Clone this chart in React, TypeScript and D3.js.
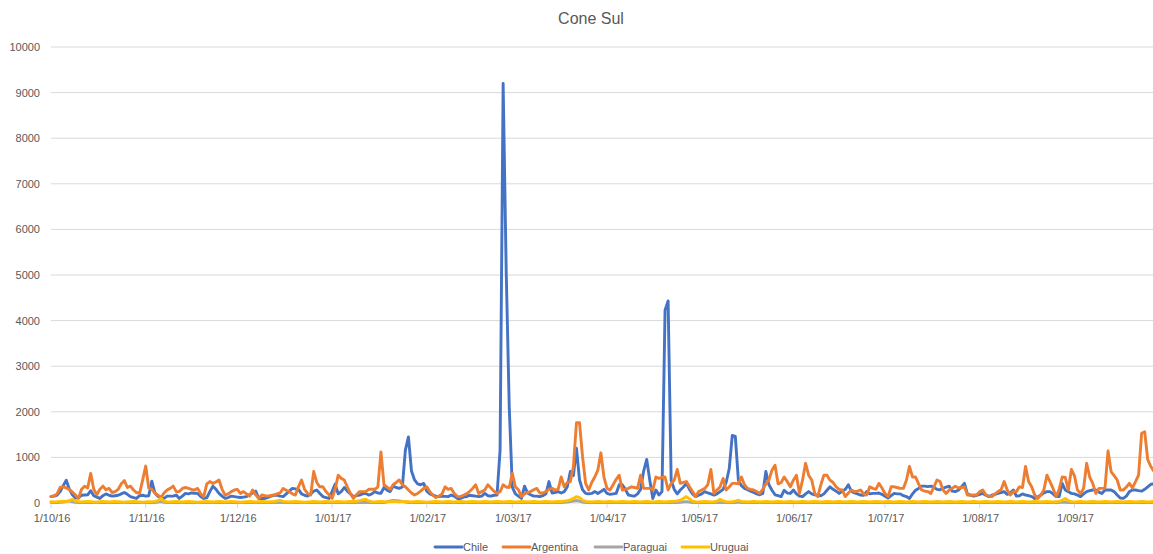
import { useEffect, useRef } from 'react';
import * as d3 from 'd3';

// daily series, first value = 1/10/2016
const startDate = Date.UTC(2016, 9, 1);

const chile = [
  140, 150, 175, 250, 380, 500, 300, 180, 110, 120,
  170, 175, 180, 270, 160, 130, 100, 160, 200, 170,
  150, 160, 170, 200, 230, 190, 140, 120, 100, 160,
  170, 150, 160, 480, 220, 150, 110, 100, 150, 150,
  150, 175, 100, 150, 210, 200, 220, 215, 210, 140,
  100, 115, 250, 370, 300, 210, 150, 100, 120, 150,
  140, 130, 120, 130, 140, 180, 220, 260, 100, 100,
  100, 120, 150, 170, 175, 150, 140, 200, 260, 320,
  310, 300, 200, 170, 150, 200, 260, 285, 210, 140,
  120, 100, 250, 415, 200, 250, 340, 260, 200, 140,
  160, 175, 200, 210, 175, 200, 250, 220, 210, 340,
  280, 250, 370, 340, 320, 350, 1160, 1450, 700, 505,
  420, 400, 430, 260, 200, 175, 150, 140, 150, 145,
  140, 175, 150, 100, 100, 130, 140, 170, 160, 150,
  140, 150, 210, 160, 150, 170, 175, 1160, 9200, 5100,
  2100, 350, 200, 150, 100, 370, 220, 180, 150, 150,
  140, 160, 200, 470, 220, 230, 250, 220, 250, 355,
  690, 600, 1200, 505, 290, 210, 200, 210, 250, 210,
  250, 300, 210, 190, 200, 210, 400, 400, 300, 175,
  160, 150, 200, 300, 700, 955, 500, 100, 285, 175,
  250, 4230, 4430, 500, 300, 200, 285, 350, 430, 300,
  200, 140, 170, 200, 250, 220, 200, 175, 200, 250,
  300, 450, 750, 1480, 1460, 500, 380, 320, 290, 260,
  230, 200, 180, 210, 690, 400, 280, 180, 160, 140,
  280, 220, 210, 285, 200, 150, 140, 200, 250, 200,
  180, 170, 160, 200, 280, 355, 300, 260, 210, 260,
  300, 400, 260, 220, 200, 175, 170, 250, 200, 210,
  210, 220, 190, 150, 110, 160, 210, 200, 200, 160,
  140, 100, 200, 280, 320, 370, 370, 360, 370, 350,
  300, 290, 320, 350, 370, 260, 250, 280, 350, 430,
  190, 175, 150, 170, 190, 210, 170, 140, 170, 190,
  210, 230, 250, 190, 220, 285, 150, 160, 200, 175,
  160, 140, 100, 130, 175, 220, 250, 250, 200, 140,
  140, 430, 285, 250, 210, 200, 175, 140, 200, 250,
  270, 285, 285, 240, 210, 285, 285, 285, 250, 175,
  110, 100, 150, 250, 285, 285, 270, 260, 300, 355,
  410, 420,
];

const argentina = [
  140, 160, 200, 340, 355, 330, 300, 240, 175, 100,
  300, 370, 330, 650, 300, 180, 300, 370, 290, 320,
  230, 250, 300, 420, 490, 340, 370, 285, 230, 210,
  500, 810, 330, 300, 220, 170, 120, 220, 285, 320,
  370, 250, 250, 320, 340, 320, 300, 285, 320, 200,
  140, 420, 470, 430, 460, 505, 300, 175, 200, 250,
  285, 300, 210, 250, 200, 150, 285, 180, 100, 175,
  160, 150, 165, 175, 200, 220, 320, 280, 250, 200,
  175, 355, 505, 300, 210, 175, 690, 450, 355, 355,
  250, 180, 100, 300, 610, 540, 505, 350, 210, 100,
  180, 250, 250, 250, 300, 300, 300, 355, 1120, 400,
  350, 300, 400, 450, 505, 400, 355, 285, 220, 175,
  210, 260, 320, 355, 250, 175, 120, 150, 200, 355,
  300, 320, 210, 140, 140, 170, 200, 250, 320, 400,
  210, 250, 285, 400, 330, 260, 210, 250, 400, 350,
  340, 650, 355, 290, 140, 200, 230, 250, 290, 320,
  220, 220, 250, 300, 320, 285, 300, 570, 355, 450,
  470, 800, 1760, 1760, 1010, 430, 285, 450, 570, 720,
  1100, 570, 320, 285, 400, 520, 610, 285, 300, 320,
  355, 340, 320, 610, 320, 320, 320, 285, 570, 540,
  560, 570, 285, 430, 500, 735, 430, 450, 470, 355,
  250, 140, 250, 285, 320, 400, 735, 210, 285, 350,
  540, 285, 350, 430, 430, 420, 570, 400, 320, 300,
  285, 250, 210, 300, 420, 505, 720, 830, 420, 450,
  570, 470, 355, 500, 610, 210, 500, 870, 610, 505,
  210, 140, 400, 610, 610, 500, 450, 355, 300, 285,
  140, 220, 285, 250, 260, 285, 200, 175, 355, 320,
  300, 430, 330, 210, 140, 355, 355, 340, 320, 320,
  500, 800, 570, 570, 420, 285, 260, 250, 210, 350,
  505, 470, 285, 210, 285, 320, 370, 330, 340, 355,
  175, 170, 175, 175, 250, 285, 180, 150, 140, 200,
  250, 290, 470, 285, 175, 250, 250, 355, 340, 800,
  470, 355, 175, 100, 175, 285, 610, 470, 320, 140,
  300, 570, 560, 285, 735, 600, 285, 210, 320, 870,
  570, 430, 210, 320, 320, 325, 1140, 690, 600, 505,
  285, 285, 350, 430, 330, 470, 610, 1530, 1560, 950,
  800, 700,
];

const paraguai = [
  10, 12, 8, 15, 20, 30, 45, 25, 15, 10,
  8, 10, 12, 10, 8, 10, 12, 15, 10, 8,
  10, 12, 10, 8, 10, 15, 12, 10, 8, 10,
  12, 10, 8, 10, 12, 20, 30, 15, 10, 8,
  10, 12, 10, 8, 10, 12, 10, 8, 10, 12,
  10, 8, 10, 12, 10, 8, 10, 12, 10, 8,
  10, 12, 10, 8, 10, 12, 10, 8, 10, 12,
  10, 8, 10, 12, 10, 8, 10, 12, 10, 8,
  10, 12, 10, 8, 10, 12, 10, 8, 10, 12,
  10, 8, 10, 12, 10, 8, 10, 12, 10, 8,
  10, 12, 15, 12, 10, 8, 10, 12, 10, 8,
  25, 45, 55, 50, 45, 35, 20, 12, 10, 8,
  10, 12, 10, 8, 10, 12, 10, 8, 10, 12,
  10, 8, 10, 12, 10, 8, 10, 12, 10, 8,
  10, 12, 10, 8, 10, 12, 10, 8, 10, 12,
  10, 8, 10, 12, 10, 8, 10, 12, 10, 8,
  10, 12, 10, 8, 10, 12, 10, 8, 15, 20,
  30, 40, 55, 40, 20, 12, 10, 8, 10, 12,
  10, 8, 10, 12, 10, 8, 10, 12, 10, 8,
  10, 12, 10, 8, 10, 12, 10, 8, 10, 12,
  10, 8, 10, 12, 10, 8, 15, 25, 30, 20,
  10, 8, 10, 12, 10, 8, 10, 12, 10, 8,
  10, 12, 10, 8, 10, 20, 12, 8, 10, 12,
  10, 8, 10, 12, 10, 8, 10, 12, 10, 8,
  10, 12, 10, 8, 10, 12, 10, 8, 10, 12,
  10, 8, 10, 12, 10, 8, 10, 12, 10, 8,
  10, 12, 10, 8, 10, 12, 10, 8, 10, 12,
  10, 8, 10, 12, 10, 8, 10, 12, 10, 8,
  10, 12, 10, 8, 10, 12, 10, 8, 10, 12,
  10, 8, 10, 12, 10, 8, 10, 12, 10, 8,
  10, 12, 10, 8, 10, 12, 10, 8, 10, 12,
  10, 8, 10, 12, 10, 8, 10, 12, 10, 8,
  10, 12, 10, 8, 10, 12, 10, 8, 10, 12,
  10, 20, 15, 8, 10, 12, 10, 8, 10, 12,
  10, 8, 10, 12, 10, 8, 10, 12, 10, 8,
  10, 12, 10, 8, 10, 12, 10, 8, 10, 12,
  10, 8,
];

const uruguai = [
  30, 25, 30, 35, 40, 35, 50, 80, 40, 30,
  25, 30, 35, 30, 25, 20, 30, 35, 30, 25,
  30, 35, 30, 25, 20, 25, 30, 35, 30, 25,
  20, 25, 30, 30, 35, 50, 100, 40, 30, 25,
  30, 35, 30, 25, 30, 35, 30, 25, 20, 25,
  30, 35, 30, 25, 30, 35, 30, 25, 30, 35,
  30, 25, 20, 25, 30, 35, 30, 25, 30, 35,
  30, 25, 30, 35, 45, 60, 35, 30, 25, 30,
  35, 30, 25, 20, 25, 30, 35, 30, 25, 30,
  35, 30, 25, 30, 35, 30, 25, 30, 35, 40,
  35, 50, 70, 80, 45, 30, 25, 30, 35, 30,
  25, 30, 35, 30, 25, 30, 35, 30, 25, 30,
  35, 30, 25, 20, 25, 30, 35, 30, 25, 30,
  35, 30, 25, 30, 35, 30, 25, 30, 35, 30,
  25, 30, 35, 30, 25, 30, 35, 30, 25, 30,
  35, 30, 25, 30, 35, 30, 25, 30, 35, 30,
  25, 30, 35, 30, 25, 30, 35, 30, 40, 50,
  70, 100, 140, 120, 60, 35, 30, 25, 30, 35,
  30, 25, 30, 35, 30, 25, 30, 35, 30, 25,
  30, 35, 30, 25, 30, 35, 30, 25, 30, 35,
  30, 25, 30, 35, 40, 45, 60, 100, 140, 90,
  40, 30, 25, 30, 35, 30, 25, 30, 40, 80,
  45, 30, 25, 30, 40, 60, 35, 30, 25, 30,
  35, 30, 25, 30, 35, 30, 25, 30, 35, 30,
  25, 30, 35, 30, 25, 30, 35, 30, 25, 30,
  35, 30, 25, 30, 35, 30, 25, 30, 35, 30,
  25, 30, 35, 30, 25, 30, 35, 30, 25, 30,
  35, 30, 25, 30, 35, 30, 25, 30, 35, 30,
  25, 30, 35, 30, 25, 30, 35, 30, 25, 30,
  35, 30, 25, 30, 35, 30, 25, 30, 35, 30,
  25, 30, 35, 30, 25, 30, 35, 30, 25, 30,
  35, 30, 25, 30, 35, 30, 25, 30, 35, 30,
  25, 30, 35, 30, 25, 30, 35, 30, 25, 30,
  35, 60, 100, 50, 30, 25, 30, 35, 30, 25,
  30, 35, 30, 25, 30, 35, 30, 25, 30, 35,
  30, 25, 30, 35, 30, 25, 30, 35, 30, 25,
  30, 35,
];

const seriesNames = ['Chile', 'Argentina', 'Paraguai', 'Uruguai'];
const seriesValues = [chile, argentina, paraguai, uruguai];
const seriesColors = ['#4472C4', '#ED7D31', '#A5A5A5', '#FFC000'];
const yTicks = [0, 1000, 2000, 3000, 4000, 5000, 6000, 7000, 8000, 9000, 10000];
const title = 'Cone Sul';

const DAY = 86400000;

export default function App() {
  const svgRef = useRef<SVGSVGElement>(null);

  useEffect(() => {
    if (!svgRef.current) return;
    const width = 1153;
    const font = '"Liberation Sans", Arial, sans-serif';
    const textColor = '#595959';

    const svg = d3.select(svgRef.current);
    svg.selectAll('*').remove();

    const left = 51;
    const pxPerDay = 3.055;
    const x = d3.scaleUtc()
      .domain([new Date(startDate), new Date(Date.UTC(2017, 9, 1))])
      .range([left, left + 365 * pxPerDay]);
    const y = d3.scaleLinear().domain([0, 10000]).range([503, 47]);

    // gridlines
    svg.append('g')
      .selectAll('line')
      .data(yTicks)
      .join('line')
      .attr('x1', left)
      .attr('x2', width)
      .attr('y1', d => y(d))
      .attr('y2', d => y(d))
      .attr('stroke', '#d9d9d9')
      .attr('stroke-width', 1);

    // y labels
    svg.append('g')
      .selectAll('text')
      .data(yTicks)
      .join('text')
      .attr('x', 40)
      .attr('y', d => y(d) + 4)
      .attr('text-anchor', 'end')
      .attr('font-family', font)
      .attr('font-size', 11)
      .attr('fill', textColor)
      .text(d => String(d));

    // x ticks + labels
    const months = x.ticks(d3.utcMonth.every(1)!).filter(d => x(d) <= width);
    const fmt = d3.utcFormat('%-d/%m/%y');
    const xa = svg.append('g');
    xa.selectAll('line')
      .data(months)
      .join('line')
      .attr('x1', d => x(d))
      .attr('x2', d => x(d))
      .attr('y1', 503)
      .attr('y2', 508)
      .attr('stroke', '#d9d9d9');
    xa.selectAll('text')
      .data(months)
      .join('text')
      .attr('x', d => x(d) + 1)
      .attr('y', 522)
      .attr('text-anchor', 'middle')
      .attr('font-family', font)
      .attr('font-size', 11)
      .attr('fill', textColor)
      .text(d => fmt(d));

    // lines
    const line = d3.line<number>()
      .x((_, i) => x(new Date(startDate + i * DAY)))
      .y(d => y(d));

    svg.append('g')
      .selectAll('path')
      .data(seriesValues)
      .join('path')
      .attr('d', d => line(d))
      .attr('fill', 'none')
      .attr('stroke', (_, i) => seriesColors[i])
      .attr('stroke-width', 2.9)
      .attr('stroke-linejoin', 'round')
      .attr('stroke-linecap', 'round');

    // title
    svg.append('text')
      .attr('x', 591)
      .attr('y', 24)
      .attr('text-anchor', 'middle')
      .attr('font-family', font)
      .attr('font-size', 16)
      .attr('fill', textColor)
      .text(title);

    // legend
    const legendX = [435, 503, 595, 682];
    const lg = svg.append('g')
      .selectAll('g')
      .data(seriesNames)
      .join('g')
      .attr('transform', (_, i) => `translate(${legendX[i]},547)`);
    lg.append('line')
      .attr('x1', 0)
      .attr('x2', 27)
      .attr('stroke', (_, i) => seriesColors[i])
      .attr('stroke-width', 2.9)
      .attr('stroke-linecap', 'round');
    lg.append('text')
      .attr('x', 28)
      .attr('y', 4)
      .attr('font-family', font)
      .attr('font-size', 11)
      .attr('fill', textColor)
      .text(d => d);
  }, []);

  return (
    <svg
      ref={svgRef}
      width={1153}
      height={554}
      style={{ position: 'absolute', left: 0, top: 0, background: '#fff' }}
    />
  );
}
